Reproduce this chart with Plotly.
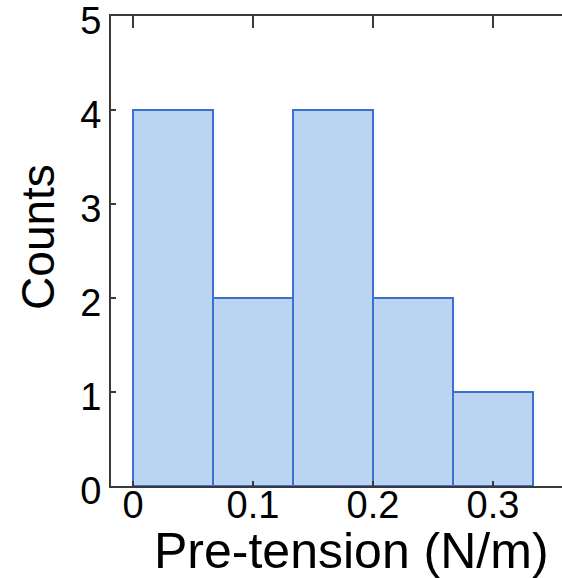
import plotly.graph_objects as go

# Histogram of pre-tension values
bin_edges = [0.0, 1 / 15, 2 / 15, 3 / 15, 4 / 15, 5 / 15]
counts = [4, 2, 4, 2, 1]

x_ticks = [0, 0.1, 0.2, 0.3]
x_tick_text = ["0", "0.1", "0.2", "0.3"]
y_ticks = [0, 1, 2, 3, 4, 5]

x_title = "Pre-tension (N/m)"
y_title = "Counts"

centers = [(a + b) / 2 for a, b in zip(bin_edges[:-1], bin_edges[1:])]
widths = [b - a for a, b in zip(bin_edges[:-1], bin_edges[1:])]

FONT = "Liberation Sans, Arial, sans-serif"
AXIS_COLOR = "#3a3a3a"

fig = go.Figure()
fig.add_trace(go.Bar(
    x=centers,
    y=counts,
    width=widths,
    marker=dict(color="#bad4f2", line=dict(color="#3d6fcc", width=2)),
    showlegend=False,
))
# invisible trace to anchor the top axis
fig.add_trace(go.Scatter(x=[0], y=[0], xaxis="x2", mode="markers",
                         marker=dict(opacity=0), showlegend=False, hoverinfo="skip"))

x_range = [-0.0183, 0.3575]

fig.update_layout(
    width=562,
    height=578,
    margin=dict(l=111, r=0, t=16, b=92, autoexpand=False),
    paper_bgcolor="white",
    plot_bgcolor="white",
    bargap=0,
    font=dict(family=FONT, color="black"),
    xaxis=dict(
        range=x_range,
        tickvals=x_ticks,
        ticktext=x_tick_text,
        ticks="inside",
        ticklen=5,
        tickwidth=2,
        tickcolor=AXIS_COLOR,
        showline=True,
        linecolor=AXIS_COLOR,
        linewidth=2,
        showgrid=False,
        zeroline=False,
        tickfont=dict(size=38, family=FONT),
        ticklabelstandoff=-16,
        automargin=False,
    ),
    xaxis2=dict(
        range=x_range,
        overlaying="x",
        side="top",
        tickvals=x_ticks,
        ticks="inside",
        ticklen=12,
        tickwidth=2,
        tickcolor=AXIS_COLOR,
        showticklabels=False,
        showline=True,
        linecolor=AXIS_COLOR,
        linewidth=2,
        showgrid=False,
        zeroline=False,
        automargin=False,
    ),
    yaxis=dict(
        range=[0, 5],
        tickvals=y_ticks,
        ticks="inside",
        ticklen=5,
        tickwidth=2,
        tickcolor=AXIS_COLOR,
        showline=True,
        linecolor=AXIS_COLOR,
        linewidth=2,
        showgrid=False,
        zeroline=False,
        tickfont=dict(size=38, family=FONT),
        ticklabeloverflow="allow",
        ticklabelshift=5,
        automargin=False,
    ),
)

# axis titles
fig.add_annotation(
    text=x_title, xref="paper", yref="paper", x=0.534, y=0, yshift=-65,
    xanchor="center", yanchor="middle", showarrow=False,
    font=dict(size=50, family=FONT),
)
fig.add_annotation(
    text=y_title, xref="paper", yref="paper", x=0, y=0.53, xshift=-73,
    xanchor="center", yanchor="middle", textangle=-90, showarrow=False,
    font=dict(size=46, family=FONT),
)

fig.write_html("out.html")
